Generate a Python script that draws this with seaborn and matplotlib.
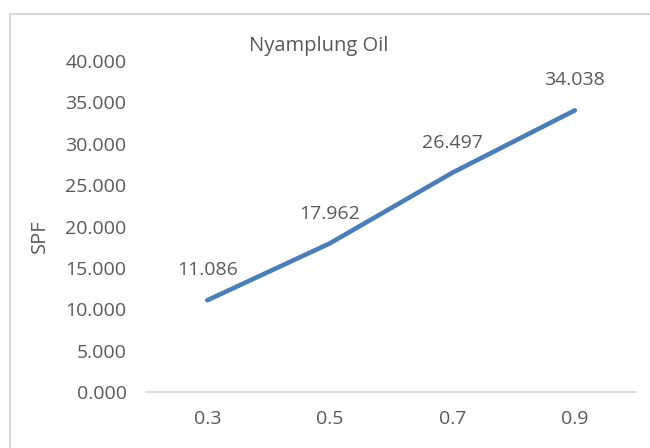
import pandas as pd
import matplotlib
matplotlib.use('Agg')
import matplotlib.pyplot as plt
import seaborn as sns

# dados do grafico
konsentrasi = ['0.3', '0.5', '0.7', '0.9']
spf = [11.086, 17.962, 26.497, 34.038]
yticks = [0, 5, 10, 15, 20, 25, 30, 35, 40]

df = pd.DataFrame({'konsentrasi': konsentrasi, 'SPF': spf})

sns.set_style('white')
plt.rcParams['font.family'] = ['Open Sans', 'DejaVu Sans']

cor_texto = '#595959'

fig = plt.figure(figsize=(6.5, 4.48), dpi=100)
ax = fig.add_axes([0.2246, 0.125, 0.754, 0.7388])

sns.lineplot(data=df, x='konsentrasi', y='SPF', ax=ax, color='#4a7ebb',
             linewidth=3.3, sort=False)

# rotulos dos pontos
for i, v in enumerate(spf):
    ax.annotate(f'{v:.3f}', (i, v), xytext=(0, 21.5), textcoords='offset points',
                ha='center', va='center', fontsize=14, color=cor_texto)

ax.set_xlim(-0.5, 3.5)
ax.set_ylim(0, 40)
ax.set_yticks(yticks)
ax.set_yticklabels([f'{t:.3f}' for t in yticks])
ax.tick_params(axis='both', length=0, labelsize=14, labelcolor=cor_texto)
ax.tick_params(axis='y', pad=14)
ax.tick_params(axis='x', pad=13)
ax.set_xlabel('')
ax.set_ylabel('')

for s in ['top', 'right', 'left']:
    ax.spines[s].set_visible(False)
ax.spines['bottom'].set_color('#d9d9d9')
ax.spines['bottom'].set_linewidth(1.2)

fig.text(0.491, 1 - 46 / 448, 'Nyamplung Oil', ha='center', va='center',
         fontsize=14.5, color=cor_texto)
fig.text(40 / 650, 1 - 236 / 448, 'SPF', ha='center', va='center',
         rotation=90, fontsize=14.5, color=cor_texto)

# moldura externa
fig.add_artist(plt.Rectangle((10 / 650, -0.1), 1.2, 1 - 14 / 448 + 0.1,
                             transform=fig.transFigure, fill=False,
                             edgecolor='#d9d9d9', linewidth=1.5))

fig.savefig('out.png', dpi=100)
